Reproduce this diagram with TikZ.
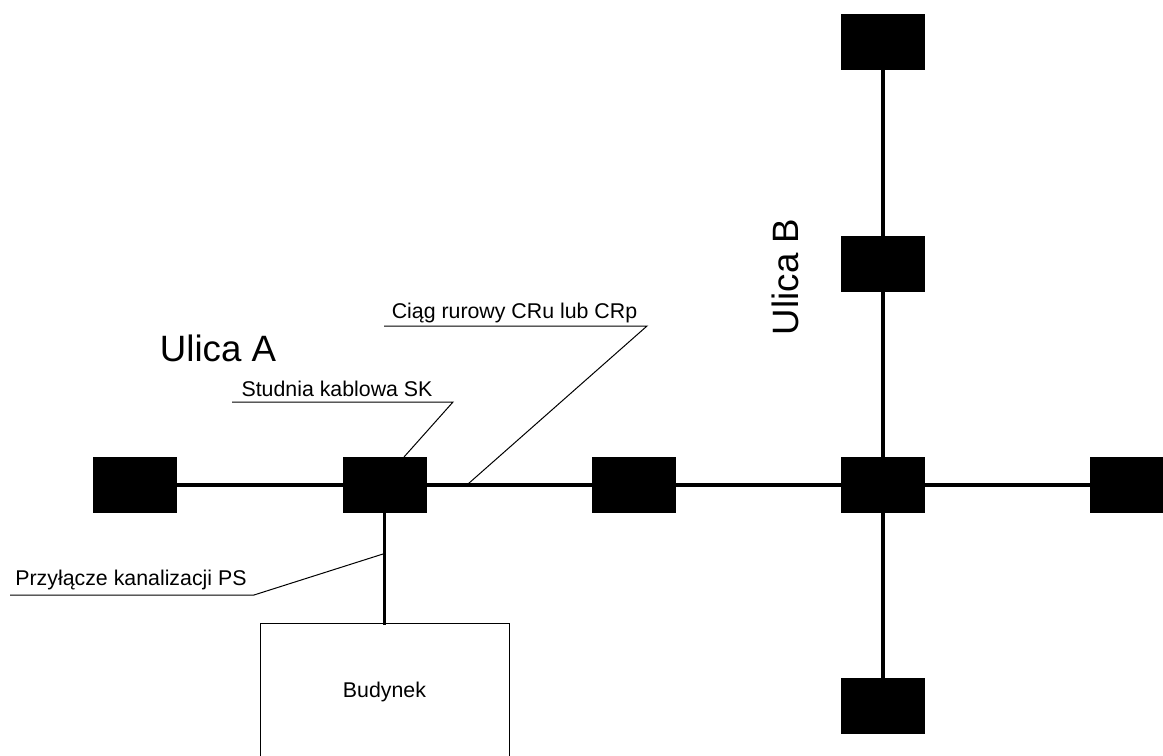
\documentclass[tikz,border=0pt]{standalone}
\usepackage{fontspec}
\setmainfont{Liberation Sans}
\usepackage{tikz}
\usetikzlibrary{positioning}

\begin{document}
\begin{tikzpicture}[
    x=0.75pt, y=-0.75pt,
    studnia/.style={fill=black, inner sep=0pt, outer sep=0pt, minimum width=63pt, minimum height=42pt},
    rura/.style={draw, line width=2.3pt},
    odnosnik/.style={draw, line width=0.75pt},
    etykieta/.style={inner sep=0pt, font=\fontsize{16}{19}\selectfont},
    ulica/.style={inner sep=0pt, font=\fontsize{27.5}{32}\selectfont}
]
\useasboundingbox (0,0) rectangle (1163,756);
\node[studnia] (skA1) at (135,485) {};
\node[studnia] (skA2) at (384.5,485) {};
\node[studnia] (skA3) at (634,485) {};
\node[studnia] (skX) at (883,485) {};
\node[studnia] (skA5) at (1132,485) {};
\node[studnia] (skB1) at (883,42) {};
\node[studnia] (skB2) at (883,263.5) {};
\node[studnia] (skB4) at (883,706) {};
\draw[odnosnik] (260,623) rectangle (509,770);
\coordinate (budynekGora) at (384.5,625);
\node[etykieta] (budynek) at (384.5,692) {Budynek};

\draw[rura] (skA1) -- (skA2);
\draw[rura] (skA2) -- (skA3);
\draw[rura] (skA3) -- (skX);
\draw[rura] (skX) -- (skA5);
\draw[rura] (skB1) -- (skB2);
\draw[rura] (skB2) -- (skX);
\draw[rura] (skX) -- (skB4);
\draw[rura] (skA2) -- (budynekGora);

\node[ulica] (ulicaA) at (218,348) {Ulica A};
\node[ulica, rotate=90] (ulicaB) at (785,277) {Ulica B};

\node[etykieta] (ciag) at (514.5,313) {Ciąg rurowy CRu lub CRp};
\coordinate (ciagL) at (384,326);
\coordinate (ciagP) at (647,326);
\coordinate (ciagK) at (468,484);
\draw[odnosnik] (ciagL) -- (ciagP) -- (ciagK);

\node[etykieta] (sk) at (337,389) {Studnia kablowa SK};
\coordinate (skL) at (232,402);
\coordinate (skP) at (453,402);
\coordinate (skK) at (404,457);
\draw[odnosnik] (skL) -- (skP) -- (skK);

\node[etykieta] (ps) at (131,580) {Przyłącze kanalizacji PS};
\coordinate (psL) at (10,595);
\coordinate (psP) at (254,595);
\coordinate (psK) at (383,554);
\draw[odnosnik] (psL) -- (psP) -- (psK);
\end{tikzpicture}
\end{document}
